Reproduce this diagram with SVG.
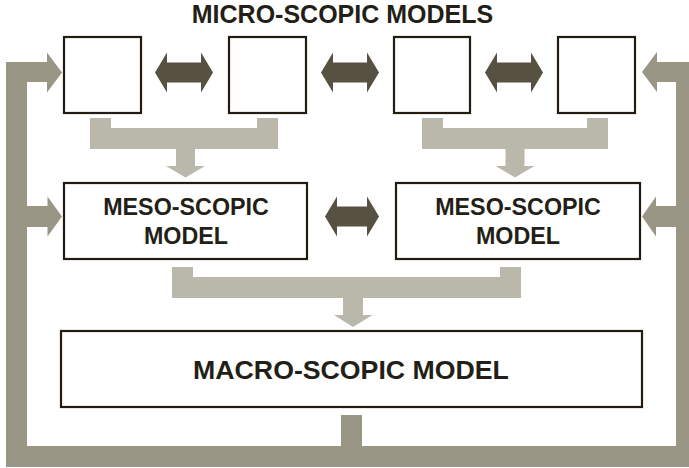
<svg xmlns="http://www.w3.org/2000/svg" width="689" height="468" viewBox="0 0 689 468">
<style>
.frame{fill:#9a9686;}
.merge{fill:#bab8ab;}
.dbl{fill:#575142;}
.box{fill:#ffffff;stroke:#231c10;stroke-width:2.2;}
.t{font-family:"Liberation Sans",Arial,sans-serif;font-weight:bold;fill:#231f17;text-anchor:middle;}
</style>
<rect width="689" height="468" fill="#ffffff"/>
<g id="connectors">
  <g id="feedback-frame">
    <rect class="frame" x="6" y="62" width="21" height="405"/>
    <rect class="frame" x="6" y="446" width="683" height="21"/>
    <rect class="frame" x="676" y="62" width="13" height="405"/>
    <rect class="frame" x="341" y="415" width="21" height="31"/>
    <rect class="frame" x="6" y="62" width="42" height="20"/>
    <polygon class="frame" points="47,52.5 62,72.5 47,92.5"/>
    <rect class="frame" x="26" y="206" width="22" height="21"/>
    <polygon class="frame" points="47.5,196.5 62,216.5 47.5,236.5"/>
    <rect class="frame" x="656" y="62" width="33" height="20"/>
    <polygon class="frame" points="657,52 642,72 657,92"/>
    <rect class="frame" x="655" y="206" width="22" height="21"/>
    <polygon class="frame" points="656,196.5 642,216.5 656,236.5"/>
  </g>
  <path class="merge" d="M90,118 H111 V128 H257 V118 H278 V149 H195 V166 H205 L185.5,177.5 L166,166 H176 V149 H90 Z"/>
  <path class="merge" d="M422,118 H443 V128 H587 V118 H608 V149 H524.5 V166 H534.5 L515,177.5 L495.5,166 H505.5 V149 H422 Z"/>
  <path class="merge" d="M172,267 H193 V277 H500 V267 H521 V298 H363 V315 H372.5 L353,327 L334,315 H343 V298 H172 Z"/>
  <polygon class="dbl" points="155,72.5 167,52.5 167,62.5 201,62.5 201,52.5 213,72.5 201,92.5 201,82.5 167,82.5 167,92.5"/>
  <polygon class="dbl" points="321,72.5 333,52.5 333,62.5 367,62.5 367,52.5 379,72.5 367,92.5 367,82.5 333,82.5 333,92.5"/>
  <polygon class="dbl" points="485,72.5 497,52.5 497,62.5 531,62.5 531,52.5 543,72.5 531,92.5 531,82.5 497,82.5 497,92.5"/>
  <polygon class="dbl" points="325,216.5 337,196.5 337,206.5 367,206.5 367,196.5 379,216.5 367,236.5 367,226.5 337,226.5 337,236.5"/>
</g>
<text class="t" x="342.5" y="23" font-size="25">MICRO-SCOPIC MODELS</text>
<g id="micro1"><rect class="box" x="64" y="37" width="77" height="76"/></g>
<g id="micro2"><rect class="box" x="229" y="37" width="77" height="76"/></g>
<g id="micro3"><rect class="box" x="394" y="37" width="76" height="76"/></g>
<g id="micro4"><rect class="box" x="558" y="37" width="77" height="76"/></g>
<g id="meso1">
  <rect class="box" x="64" y="183" width="243" height="76"/>
  <text class="t" x="186" y="215" font-size="23.3">MESO-SCOPIC</text>
  <text class="t" x="186" y="244" font-size="23.3">MODEL</text>
</g>
<g id="meso2">
  <rect class="box" x="396" y="183" width="244" height="76"/>
  <text class="t" x="518" y="215" font-size="23.3">MESO-SCOPIC</text>
  <text class="t" x="518" y="244" font-size="23.3">MODEL</text>
</g>
<g id="macro">
  <rect class="box" x="61" y="331" width="581" height="76"/>
  <text class="t" x="351" y="378.5" font-size="26.7">MACRO-SCOPIC MODEL</text>
</g>
</svg>
